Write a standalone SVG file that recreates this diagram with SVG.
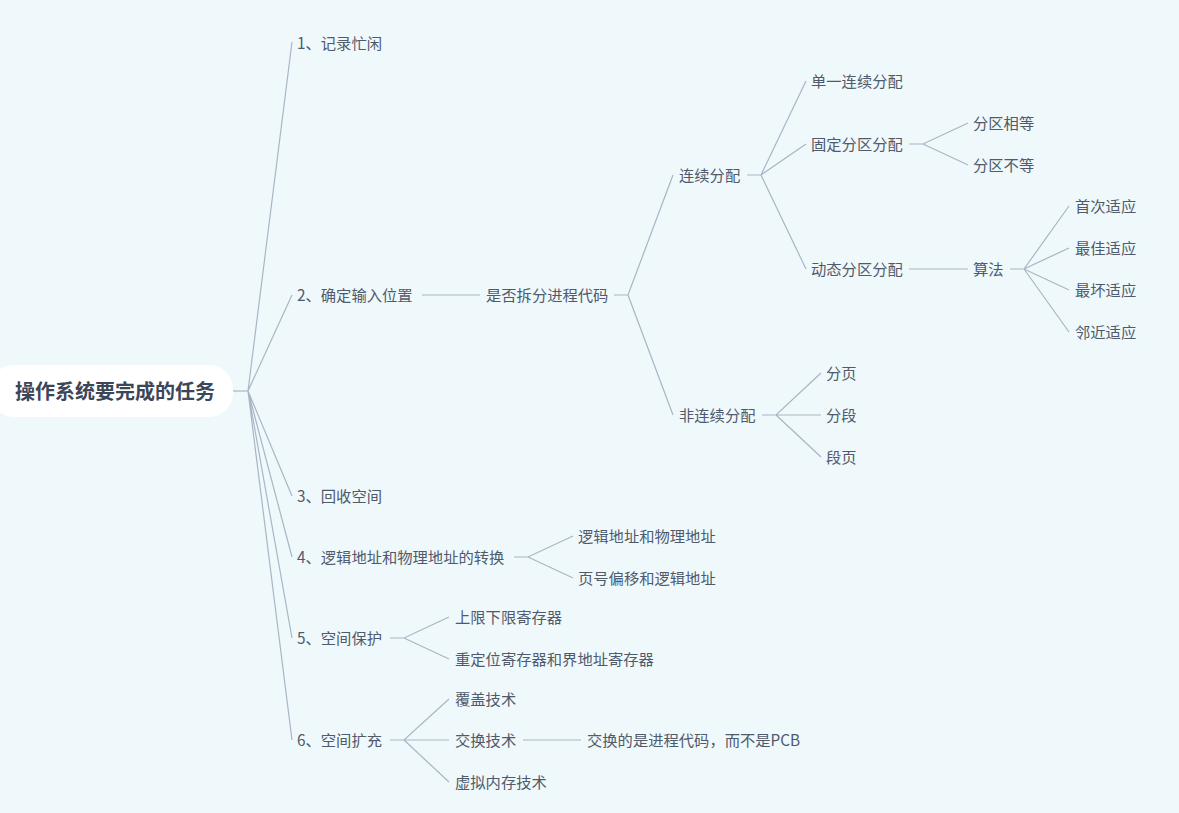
<svg xmlns="http://www.w3.org/2000/svg" width="1179" height="813" viewBox="0 0 1179 813">
<style>
.t{font-family:"Noto Sans CJK SC","Noto Sans",sans-serif;font-size:15.3px;fill:#4f5a6b;dominant-baseline:central}
.r{font-family:"Noto Sans CJK SC","Noto Sans",sans-serif;font-size:20px;font-weight:bold;fill:#3c4659;dominant-baseline:central;text-anchor:middle}
.c path{fill:none;stroke:#aab5c5;stroke-width:1.2}
</style>
<rect width="1179" height="813" fill="#eff8fb"/>
<g class="c" id="connectors">
<path d="M232 391H248"/>
<path d="M248 391L292 42M248 391L292 295M248 391L292 496M248 391L292 557M248 391L292 638M248 391L292 740"/>
<path d="M422 295H480"/>
<path d="M614 295H628L673 175M628 295L673 415"/>
<path d="M747 175H761L806 81M761 175L806 144M761 175L806 269"/>
<path d="M909 144H923L968 123M923 144L968 165"/>
<path d="M909 269H968"/>
<path d="M1010 269H1024L1069 206M1024 269L1069 248M1024 269L1069 290M1024 269L1069 332"/>
<path d="M762 415H776L821 373M776 415L821 415M776 415L821 457"/>
<path d="M514 557H528L573 536M528 557L573 578"/>
<path d="M390 638H404L449 617M404 638L449 659"/>
<path d="M390 740H404L449 699M404 740L449 740M404 740L449 782"/>
<path d="M523 740H581"/>
</g>
<g id="root"><rect x="-10" y="365" width="243" height="52" rx="24" fill="#ffffff"/><text class="r" x="115" y="390">操作系统要完成的任务</text></g>
<g transform="translate(0,-1.5)">
<g id="n1"><text class="t" x="297" y="43">1、记录忙闲</text></g>
<g id="n2"><text class="t" x="297" y="295">2、确定输入位置</text></g>
<g id="n2a"><text class="t" x="486" y="295">是否拆分进程代码</text></g>
<g id="n2a1"><text class="t" x="679" y="175">连续分配</text></g>
<g id="n2a1a"><text class="t" x="811" y="81">单一连续分配</text></g>
<g id="n2a1b"><text class="t" x="811" y="144">固定分区分配</text></g>
<g id="n2a1b1"><text class="t" x="973" y="123">分区相等</text></g>
<g id="n2a1b2"><text class="t" x="973" y="165">分区不等</text></g>
<g id="n2a1c"><text class="t" x="811" y="269">动态分区分配</text></g>
<g id="n2a1c1"><text class="t" x="973" y="269">算法</text></g>
<g id="alg1"><text class="t" x="1075" y="206">首次适应</text></g>
<g id="alg2"><text class="t" x="1075" y="248">最佳适应</text></g>
<g id="alg3"><text class="t" x="1075" y="290">最坏适应</text></g>
<g id="alg4"><text class="t" x="1075" y="332">邻近适应</text></g>
<g id="n2a2"><text class="t" x="679" y="415">非连续分配</text></g>
<g id="p1"><text class="t" x="826" y="373">分页</text></g>
<g id="p2"><text class="t" x="826" y="415">分段</text></g>
<g id="p3"><text class="t" x="826" y="457">段页</text></g>
<g id="n3"><text class="t" x="297" y="496">3、回收空间</text></g>
<g id="n4"><text class="t" x="297" y="557">4、逻辑地址和物理地址的转换</text></g>
<g id="n4a"><text class="t" x="578" y="536">逻辑地址和物理地址</text></g>
<g id="n4b"><text class="t" x="578" y="578">页号偏移和逻辑地址</text></g>
<g id="n5"><text class="t" x="297" y="638">5、空间保护</text></g>
<g id="n5a"><text class="t" x="455" y="617">上限下限寄存器</text></g>
<g id="n5b"><text class="t" x="455" y="659">重定位寄存器和界地址寄存器</text></g>
<g id="n6"><text class="t" x="297" y="740">6、空间扩充</text></g>
<g id="n6a"><text class="t" x="455" y="699">覆盖技术</text></g>
<g id="n6b"><text class="t" x="455" y="740">交换技术</text></g>
<g id="n6b1"><text class="t" x="587" y="740">交换的是进程代码，而不是PCB</text></g>
<g id="n6c"><text class="t" x="455" y="782">虚拟内存技术</text></g>
</g>
</svg>
